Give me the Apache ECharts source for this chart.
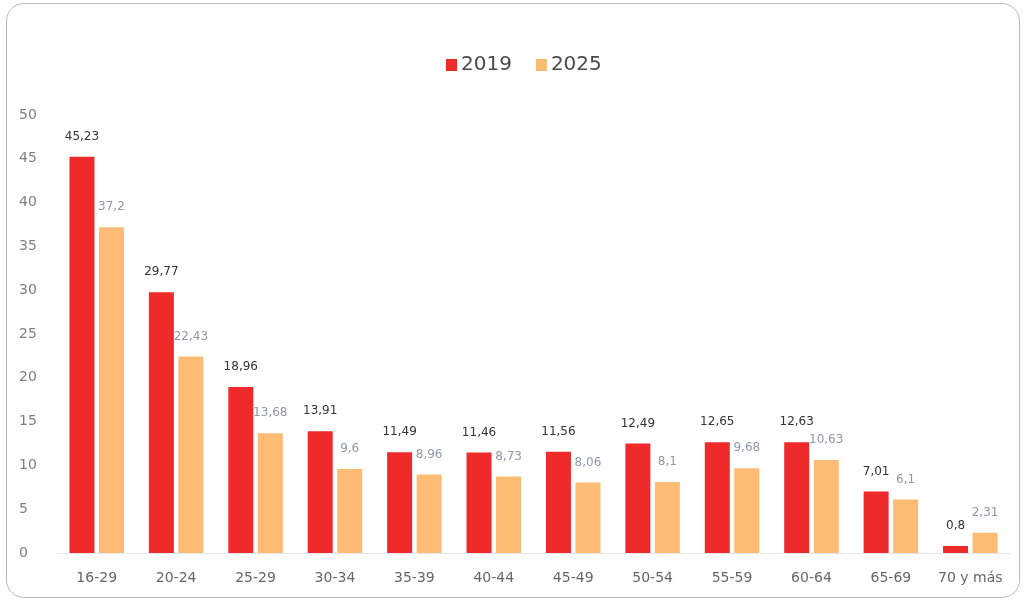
<!DOCTYPE html>
<html>
<head>
<meta charset="utf-8">
<script src="https://cdn.jsdelivr.net/npm/echarts@6/dist/echarts.min.js"></script>
<style>
  html, body { margin: 0; padding: 0; background: #fff; }
  #wrap { position: relative; width: 1026px; height: 605px; }
  #frame { position: absolute; left: 6px; top: 3px; width: 1014px; height: 595px;
           border: 1px solid #b8b8b8; border-radius: 18px; box-sizing: border-box; pointer-events: none; }
  #chart { position: absolute; left: 0; top: 0; width: 1026px; height: 605px; }
</style>
</head>
<body>
<div id="wrap">
  <div id="chart"></div>
  <div id="frame"></div>
</div>
<script>
// Age groups and rates per year
const categories = ['16-29', '20-24', '25-29', '30-34', '35-39', '40-44', '45-49', '50-54', '55-59', '60-64', '65-69', '70 y más'];
const values2019 = [45.23, 29.77, 18.96, 13.91, 11.49, 11.46, 11.56, 12.49, 12.65, 12.63, 7.01, 0.8];
const values2025 = [37.2, 22.43, 13.68, 9.6, 8.96, 8.73, 8.06, 8.1, 9.68, 10.63, 6.1, 2.31];
const yTicks = [0, 5, 10, 15, 20, 25, 30, 35, 40, 45, 50];

const fmt = v => String(v).replace('.', ',');

const chart = echarts.init(document.getElementById('chart'), null, { renderer: 'canvas' });
chart.setOption({
  animation: false,
  textStyle: { fontFamily: '"DejaVu Sans", sans-serif' },
  legend: {
    top: 50, left: 441,
    itemWidth: 11, itemHeight: 12, itemGap: 24,
    icon: 'rect',
    textStyle: { fontSize: 20, color: '#4a4a4a', padding: [0, 0, 0, -1] },
    data: ['2019', '2025']
  },
  grid: { left: 57, right: 16, top: 115, bottom: 52, containLabel: false },
  xAxis: {
    type: 'category', data: categories,
    axisLine: { show: true, lineStyle: { color: '#e3e6ea', width: 1 } },
    axisTick: { show: false },
    axisLabel: { interval: 0, fontSize: 14, color: '#666', margin: 18 }
  },
  yAxis: {
    type: 'value', min: yTicks[0], max: yTicks[yTicks.length - 1], interval: 5,
    axisLine: { show: false }, axisTick: { show: false },
    splitLine: { show: false },
    axisLabel: { fontSize: 14, color: '#808080', align: 'left', margin: 38 }
  },
  series: [
    {
      name: '2019', type: 'bar', data: values2019,
      barWidth: 25, barGap: '18%',
      itemStyle: { color: '#EE2A2B' },
      label: { show: true, position: 'top', distance: 14, fontSize: 12, color: '#333',
               formatter: p => fmt(p.value) }
    },
    {
      name: '2025', type: 'bar', data: values2025,
      barWidth: 25,
      itemStyle: { color: '#FDBB74' },
      label: { show: true, position: 'top', distance: 14, fontSize: 12, color: '#8f98a6',
               formatter: p => fmt(p.value) }
    }
  ]
});
</script>
</body>
</html>
